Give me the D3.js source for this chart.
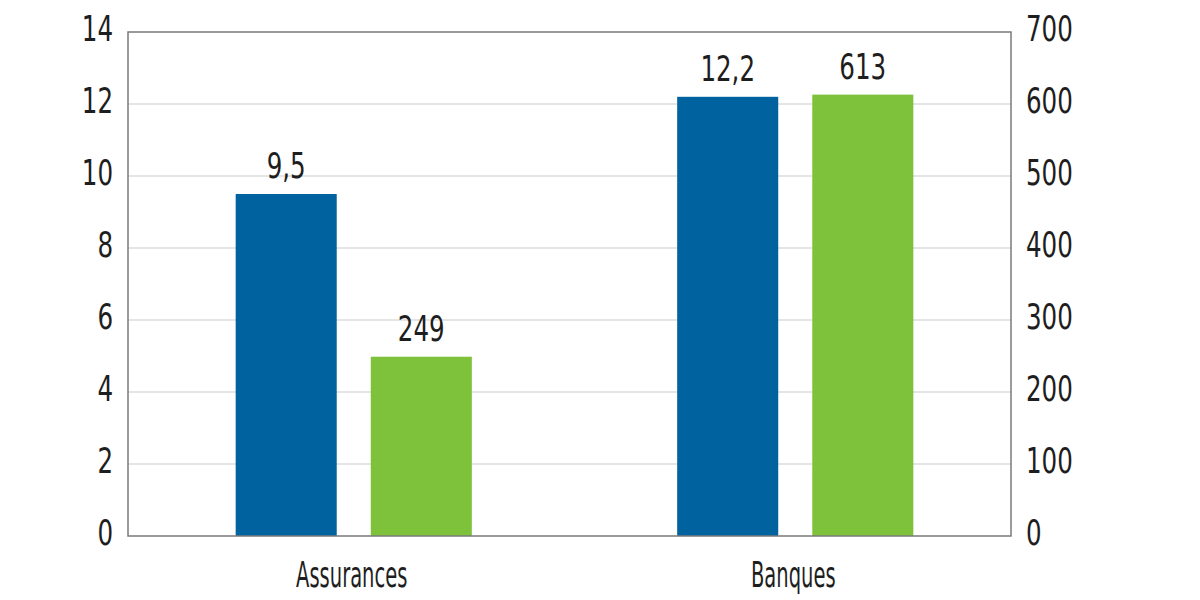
<!DOCTYPE html>
<html>
<head>
<meta charset="utf-8">
<script src="https://cdn.jsdelivr.net/npm/d3@7"></script>
<style>
  body { margin: 0; background: #fff; }
  text { font-family: "Liberation Sans Narrow", "DejaVu Sans Condensed", sans-serif; fill: #1e1e1e; }
</style>
</head>
<body>
<script>
// data
var categories = ["Assurances", "Banques"];
var seriesLeft = [9.5, 12.2];     // bleu, axe gauche
var seriesRight = [249, 613];     // vert, axe droit
var labelsLeft = ["9,5", "12,2"];
var labelsRight = ["249", "613"];
var leftTicks = [0, 2, 4, 6, 8, 10, 12, 14];
var rightTicks = [0, 100, 200, 300, 400, 500, 600, 700];

var W = 1200, H = 600;
var margin = { top: 32, right: 189, bottom: 64, left: 128 };
var width = W - margin.left - margin.right;
var height = H - margin.top - margin.bottom;
var squeeze = 0.78;
var catSqueeze = 0.62;
var fontSize = 35;

var svg = d3.select("body").append("svg")
  .attr("width", W)
  .attr("height", H);

var g = svg.append("g")
  .attr("transform", "translate(" + margin.left + "," + margin.top + ")");

/***** Scales *****/
var x0 = d3.scaleBand().domain(categories).range([0, width]);
var x1 = d3.scaleBand().domain(["left", "right"]).range([0, x0.bandwidth()])
  .paddingInner(0.252).paddingOuter(0.76);
var yL = d3.scaleLinear().domain([0, 14]).range([height, 0]);
var yR = d3.scaleLinear().domain([0, 700]).range([height, 0]);

/***** Grid *****/
g.append("g").selectAll("line")
  .data(leftTicks.slice(1, -1))
  .join("line")
  .attr("x1", 0).attr("x2", width)
  .attr("y1", d => yL(d)).attr("y2", d => yL(d))
  .attr("stroke", "#dcdcdc").attr("stroke-width", 1.5);

/***** Bars *****/
var colors = { left: "#00629e", right: "#7dc23a" };
var rows = categories.map((c, i) => ({ cat: c, i: i }));

g.append("g").selectAll("rect.l")
  .data(rows).join("rect")
  .attr("x", d => x0(d.cat) + x1("left") + 5)
  .attr("width", x1.bandwidth())
  .attr("y", d => yL(seriesLeft[d.i]))
  .attr("height", d => height - yL(seriesLeft[d.i]))
  .attr("fill", colors.left);

g.append("g").selectAll("rect.r")
  .data(rows).join("rect")
  .attr("x", d => x0(d.cat) + x1("right") + 5)
  .attr("width", x1.bandwidth())
  .attr("y", d => yR(seriesRight[d.i]))
  .attr("height", d => height - yR(seriesRight[d.i]))
  .attr("fill", colors.right);

/***** Value labels *****/
function sqText(sel) {
  sel.attr("font-size", fontSize).attr("text-anchor", "middle");
}
g.append("g").selectAll("text")
  .data(rows).join("text")
  .attr("transform", d => "translate(" + (x0(d.cat) + x1("left") + 5 + x1.bandwidth() / 2) + "," + (yL(seriesLeft[d.i]) - 16) + ") scale(" + squeeze + ",1)")
  .call(sqText)
  .text(d => labelsLeft[d.i]);

g.append("g").selectAll("text")
  .data(rows).join("text")
  .attr("transform", d => "translate(" + (x0(d.cat) + x1("right") + 5 + x1.bandwidth() / 2) + "," + (yR(seriesRight[d.i]) - 16) + ") scale(" + squeeze + ",1)")
  .call(sqText)
  .text(d => labelsRight[d.i]);

/***** Axes *****/
var axL = g.append("g")
  .call(d3.axisLeft(yL).tickValues(leftTicks).tickSize(0).tickFormat(d3.format("d")));
var axR = g.append("g")
  .attr("transform", "translate(" + width + ",0)")
  .call(d3.axisRight(yR).tickValues(rightTicks).tickSize(0).tickFormat(d3.format("d")));
var axB = g.append("g")
  .attr("transform", "translate(0," + height + ")")
  .call(d3.axisBottom(x0).tickSize(0));

[axL, axR, axB].forEach(a => {
  a.select(".domain").remove();
  a.selectAll("text")
    .attr("font-family", null)
    .attr("font-size", fontSize)
    .attr("fill", "#1e1e1e");
});
axL.selectAll("text").attr("x", -15 / squeeze).attr("dy", "0.25em")
  .attr("transform", "scale(" + squeeze + ",1)");
axR.selectAll("text").attr("x", 15 / squeeze).attr("dy", "0.25em")
  .attr("transform", "scale(" + squeeze + ",1)");
axB.selectAll("text").attr("y", 51).attr("dy", 0)
  .attr("transform", "translate(3,0) scale(" + catSqueeze + ",1)");

/***** Frame *****/
g.append("rect")
  .attr("width", width).attr("height", height)
  .attr("fill", "none")
  .attr("stroke", "#7a7a7a").attr("stroke-width", 1.5);
</script>
</body>
</html>
